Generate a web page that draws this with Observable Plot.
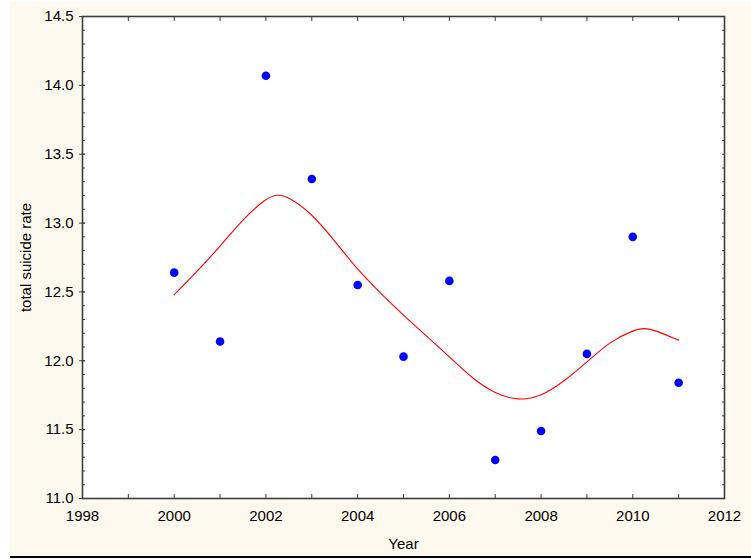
<!DOCTYPE html>
<html>
<head>
<meta charset="utf-8">
<script src="https://cdn.jsdelivr.net/npm/d3@7"></script>
<script src="https://cdn.jsdelivr.net/npm/@observablehq/plot@0.6"></script>
<style>
  html, body { margin: 0; padding: 0; background: #ffffff; }
  #bg { position: absolute; left: 10px; top: 2px; right: 0; height: 554px; background: #fdf9ee; border-bottom: 2px solid #000; }
  #chart { position: absolute; left: 0; top: 0; }
</style>
</head>
<body>
<div id="bg"></div>
<div id="chart"></div>
<script>
// observed data
const years = [2000, 2001, 2002, 2003, 2004, 2005, 2006, 2007, 2008, 2009, 2010, 2011];
const rates = [12.64, 12.14, 14.07, 13.32, 12.55, 12.03, 12.58, 11.28, 11.49, 12.05, 12.90, 11.84];

// smoothed fit curve
const fitYears  = [2000, 2000.5, 2001, 2001.5, 2002, 2002.25, 2002.5, 2003, 2003.5, 2004, 2004.5, 2005, 2005.5, 2006, 2006.5, 2007, 2007.5, 2008, 2008.5, 2009, 2009.5, 2010, 2010.25, 2010.5, 2011];
const fitValues = [12.48, 12.65, 12.83, 13.03, 13.18, 13.21, 13.19, 13.07, 12.87, 12.66, 12.49, 12.33, 12.18, 12.03, 11.87, 11.76, 11.71, 11.74, 11.85, 11.99, 12.14, 12.22, 12.24, 12.22, 12.15];

// ticks
const xMajorTicks = [1998, 2000, 2002, 2004, 2006, 2008, 2010, 2012];
const xMinorTicks = [1998, 1999, 2000, 2001, 2002, 2003, 2004, 2005, 2006, 2007, 2008, 2009, 2010, 2011, 2012];
const yMajorTicks = [11.0, 11.5, 12.0, 12.5, 13.0, 13.5, 14.0, 14.5];
const yMinorTicks = d3.range(110, 146, 1).map(v => v / 10);

const points = years.map((y, i) => ({year: y, rate: rates[i]}));
const fit = fitYears.map((y, i) => ({year: y, rate: fitValues[i]}));

const axisColor = "#3c3c3c";
const fs = 15;

const chart = Plot.plot({
  width: 751,
  height: 559,
  marginLeft: 82,
  marginRight: 27,
  marginTop: 16,
  marginBottom: 61,
  style: {background: "transparent", fontFamily: "'Liberation Sans', Arial, sans-serif", fontSize: "15px", color: "#000"},
  x: {domain: [1998, 2012]},
  y: {domain: [11, 14.5]},
  marks: [
    Plot.frame({fill: "#ffffff"}),
    // labels
    Plot.axisY({anchor: "left", ticks: yMajorTicks, tickSize: 0, tickPadding: 9, tickFormat: d => d.toFixed(1), fontSize: fs,
      label: "total suicide rate", labelAnchor: "center", labelArrow: "none", labelOffset: 62}),
    Plot.axisX({anchor: "bottom", ticks: xMajorTicks, tickSize: 0, tickPadding: 12, tickFormat: d => String(d), fontSize: fs,
      label: "Year", labelAnchor: "center", labelArrow: "none", labelOffset: 50}),
    // inward ticks
    Plot.axisY({anchor: "left", ticks: yMinorTicks, tickSize: 3, insetLeft: 3, fill: "none", stroke: axisColor, label: null}),
    Plot.axisY({anchor: "left", ticks: yMajorTicks, tickSize: 6, insetLeft: 3, fill: "none", stroke: axisColor, label: null}),
    Plot.axisY({anchor: "right", ticks: yMinorTicks, tickSize: 3, insetRight: 3, fill: "none", stroke: axisColor, label: null}),
    Plot.axisX({anchor: "bottom", ticks: xMinorTicks, tickSize: 4, insetBottom: 4, fill: "none", stroke: axisColor, label: null}),
    Plot.axisX({anchor: "top", ticks: xMinorTicks, tickSize: 4, insetTop: 4, fill: "none", stroke: axisColor, label: null}),
    Plot.frame({stroke: axisColor, strokeWidth: 1.6}),
    Plot.line(fit, {x: "year", y: "rate", stroke: "#ff0000", strokeWidth: 1.1, curve: "basis"}),
    Plot.dot(points, {x: "year", y: "rate", r: 4.3, fill: "#0000ff", stroke: "none"})
  ]
});
document.getElementById("chart").appendChild(chart);
</script>
</body>
</html>
